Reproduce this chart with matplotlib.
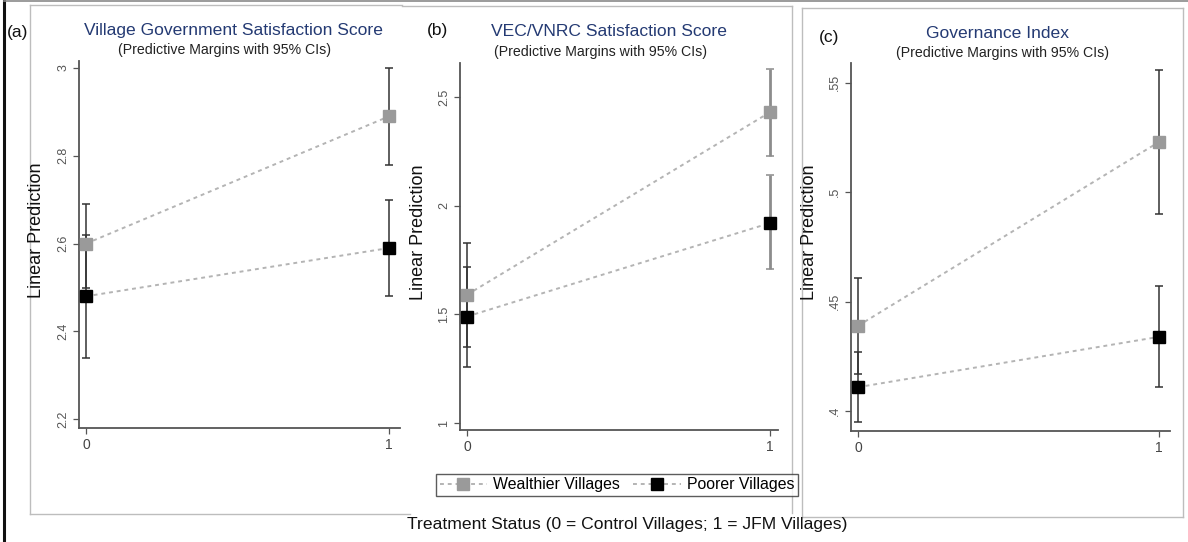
import matplotlib
matplotlib.use("Agg")
import matplotlib.pyplot as plt
from matplotlib.lines import Line2D

plt.rcParams['font.family'] = ['Liberation Sans', 'DejaVu Sans']

W, H = 1188, 542

x_pos = [0, 1]
series_names = ['Wealthier Villages', 'Poorer Villages']

# (a) Village Government Satisfaction Score
a_wealthier = [2.60, 2.89]
a_wealthier_lo = [2.50, 2.78]
a_wealthier_hi = [2.69, 3.00]
a_poorer = [2.48, 2.59]
a_poorer_lo = [2.34, 2.48]
a_poorer_hi = [2.62, 2.70]
a_yticks = [2.2, 2.4, 2.6, 2.8, 3]
a_yticklabels = ['2.2', '2.4', '2.6', '2.8', '3']

# (b) VEC/VNRC Satisfaction Score
b_wealthier = [1.59, 2.43]
b_wealthier_lo = [1.35, 2.23]
b_wealthier_hi = [1.83, 2.63]
b_poorer = [1.49, 1.92]
b_poorer_lo = [1.26, 1.71]
b_poorer_hi = [1.72, 2.14]
b_yticks = [1, 1.5, 2, 2.5]
b_yticklabels = ['1', '1.5', '2', '2.5']

# (c) Governance Index
c_wealthier = [0.439, 0.523]
c_wealthier_lo = [0.417, 0.490]
c_wealthier_hi = [0.461, 0.556]
c_poorer = [0.411, 0.434]
c_poorer_lo = [0.395, 0.411]
c_poorer_hi = [0.427, 0.457]
c_yticks = [0.40, 0.45, 0.50, 0.55]
c_yticklabels = ['.4', '.45', '.5', '.55']

titles = ['Village Government Satisfaction Score',
          'VEC/VNRC Satisfaction Score',
          'Governance Index']
subtitle = '(Predictive Margins with 95% CIs)'
panel_tags = ['(a)', '(b)', '(c)']
xlabel = 'Treatment Status (0 = Control Villages; 1 = JFM Villages)'

col_wealthier = '#9a9a9a'
col_poorer = '#000000'
col_line = '#b4b4b4'
col_title = '#243a73'


def fx(px):
    return px / W


def fy(py):
    return 1 - py / H


def box(x, y, w, h):
    return [fx(x), fy(y + h), w / W, h / H]


fig = plt.figure(figsize=(W / 100, H / 100), dpi=100)

panels = [
    dict(rect=box(79, 61, 321, 367), ylim=(2.18, 3.016), xlim=(-0.023, 1.036),
         w=(a_wealthier, a_wealthier_lo, a_wealthier_hi),
         p=(a_poorer, a_poorer_lo, a_poorer_hi),
         yticks=a_yticks, ylabels=a_yticklabels, bar_cols=['#333333', '#333333']),
    dict(rect=box(460, 63, 318, 367), ylim=(0.968, 2.656), xlim=(-0.023, 1.026),
         w=(b_wealthier, b_wealthier_lo, b_wealthier_hi),
         p=(b_poorer, b_poorer_lo, b_poorer_hi),
         yticks=b_yticks, ylabels=b_yticklabels, bar_cols=['#333333', '#8c8c8c']),
    dict(rect=box(851, 63, 319, 368), ylim=(0.391, 0.559), xlim=(-0.023, 1.036),
         w=(c_wealthier, c_wealthier_lo, c_wealthier_hi),
         p=(c_poorer, c_poorer_lo, c_poorer_hi),
         yticks=c_yticks, ylabels=c_yticklabels, bar_cols=['#333333', '#333333']),
]

for spec in panels:
    ax = fig.add_axes(spec['rect'])
    ax.set_zorder(2)
    ax.patch.set_alpha(0)
    for vals, col in [(spec['w'], col_wealthier), (spec['p'], col_poorer)]:
        mid, lo, hi = vals
        for i, xv in enumerate(x_pos):
            bw = 2.0 if spec['bar_cols'][i] == '#8c8c8c' else 1.1
            ax.errorbar([xv], [mid[i]], yerr=[[mid[i] - lo[i]], [hi[i] - mid[i]]],
                        fmt='none', ecolor=spec['bar_cols'][i], elinewidth=bw,
                        capsize=2.8, capthick=1.1, zorder=3)
        ax.plot(x_pos, mid, color=col_line, linestyle=(0, (2, 2)), lw=1.4, zorder=2)
        ax.plot(x_pos, mid, linestyle='none', marker='s', markersize=8.5,
                color=col, zorder=4)
    ax.set_xlim(*spec['xlim'])
    ax.set_ylim(*spec['ylim'])
    ax.set_xticks(x_pos)
    ax.set_xticklabels(['0', '1'], fontsize=10, color='#444444')
    ax.set_yticks(spec['yticks'])
    ax.set_yticklabels(spec['ylabels'], fontsize=9, color='#555555',
                       rotation=90, va='center')
    ax.tick_params(axis='both', direction='out', length=4, width=0.9,
                   color='#555555', pad=3)
    for s in ['top', 'right']:
        ax.spines[s].set_visible(False)
    for s in ['left', 'bottom']:
        ax.spines[s].set_color('#555555')
        ax.spines[s].set_linewidth(1.3)
    ax.set_ylabel('Linear Prediction', fontsize=13, color='#111111')
    ax.yaxis.set_label_coords(-0.105, 0.54)

# titles, subtitles and panel tags
title_x = [233, 609, 997]
sub_x = [225, 601, 1003]
title_y = [31, 32, 33]
sub_y = [50, 52, 53]
tag_xy = [(18, 33), (437, 31), (829, 38)]
for i in range(3):
    fig.text(fx(title_x[i]), fy(title_y[i]), titles[i], ha='center', va='center',
             fontsize=12.6, color=col_title)
    fig.text(fx(sub_x[i]), fy(sub_y[i]), subtitle, ha='center', va='center',
             fontsize=10.2, color='#222222')
    fig.text(fx(tag_xy[i][0]), fy(tag_xy[i][1]), panel_tags[i], ha='center',
             va='center', fontsize=12.5, color='#111111')

fig.text(fx(627), fy(525), xlabel, ha='center', va='center', fontsize=12.6,
         color='#111111')

# frame lines around the panels
frame = [
    ((4, 4), (0, 542), '#111111', 2.2),
    ((4, 1188), (1, 1), '#8a8a8a', 1.2),
    ((30, 402), (5, 5), '#bdbdbd', 1.0),
    ((30, 30), (5, 514), '#bdbdbd', 1.0),
    ((30, 410), (514, 514), '#bdbdbd', 1.0),
    ((402, 792), (6, 6), '#bdbdbd', 1.0),
    ((792, 792), (6, 513), '#bdbdbd', 1.0),
    ((802, 1183), (8, 8), '#bdbdbd', 1.0),
    ((802, 1183), (517, 517), '#bdbdbd', 1.0),
    ((802, 802), (8, 517), '#bdbdbd', 1.0),
    ((1183, 1183), (8, 517), '#bdbdbd', 1.0),
]
for xs, ys, c, lw in frame:
    fig.add_artist(Line2D([fx(v) for v in xs], [fy(v) for v in ys],
                          color=c, lw=lw, transform=fig.transFigure))

handles = [
    Line2D([], [], color=col_line, linestyle=(0, (2, 2)), lw=1.4, marker='s',
           markersize=8.5, markerfacecolor=col_wealthier,
           markeredgecolor=col_wealthier),
    Line2D([], [], color=col_line, linestyle=(0, (2, 2)), lw=1.4, marker='s',
           markersize=8.5, markerfacecolor=col_poorer, markeredgecolor=col_poorer),
]
leg = fig.legend(handles, series_names, loc='center',
                 bbox_to_anchor=(fx(617), fy(485)), ncol=2, fontsize=11.4,
                 frameon=True, fancybox=False, edgecolor='#333333',
                 handlelength=3.0, handletextpad=0.4, columnspacing=0.8,
                 borderpad=0.25)
leg.get_frame().set_linewidth(1.0)

fig.savefig('out.png', dpi=100)
